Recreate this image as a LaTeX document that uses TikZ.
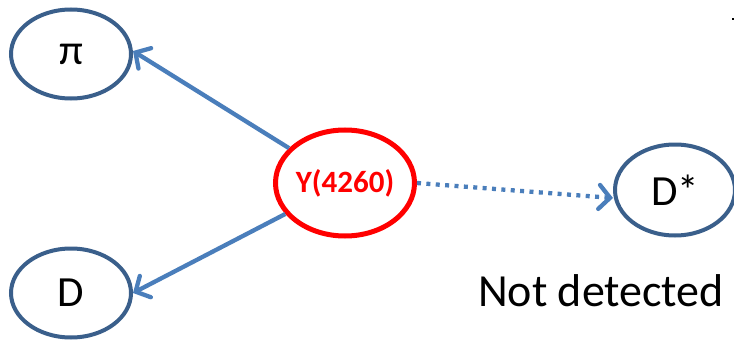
\documentclass[tikz,border=0pt]{standalone}
\usepackage{fontspec}
\setmainfont{Carlito}
\usetikzlibrary{shapes.geometric,arrows.meta}
\definecolor{outlineblue}{HTML}{3A5F8B}
\definecolor{linkblue}{HTML}{4A7EBB}
\tikzset{
  particle/.style={ellipse, draw=outlineblue, line width=4pt, inner sep=0pt,
    minimum width=120pt, minimum height=89pt, font=\fontsize{43}{47}\selectfont},
  source/.style={ellipse, draw=red, line width=5pt, inner sep=0pt,
    minimum width=139pt, minimum height=106pt, text=red,
    font=\fontsize{31}{35}\selectfont\bfseries},
  decay/.style={draw=linkblue, line width=4.3pt,
    -{Straight Barb[length=11pt,width=24pt,line cap=round]}},
  unseen/.style={decay, dash pattern=on 4pt off 5.4pt},
  caption/.style={font=\fontsize{46}{50}\selectfont, inner sep=0pt}
}
\begin{document}
\begin{tikzpicture}[x=1pt,y=-1pt]
  \useasboundingbox[fill=white] (0,0) rectangle (734,345);
  \node[particle] (pi) at (71,54) {π};
  \node[particle] (D) at (71,293) {D};
  \node[source] (Y) at (345,183) {Y(4260)};
  \node[particle, minimum height=91pt] (Dstar) at (675,190) {D*};
  \node[caption] (nd) at (601,291) {Not detected};
  \draw[decay] (Y) -- ([yshift=3pt]pi.east);
  \draw[decay] (Y) -- (D.east);
  \draw[unseen] (Y.east) -- ([yshift=-8pt]Dstar.west);
  \fill (732,18) rectangle (734,20);
\end{tikzpicture}
\end{document}
